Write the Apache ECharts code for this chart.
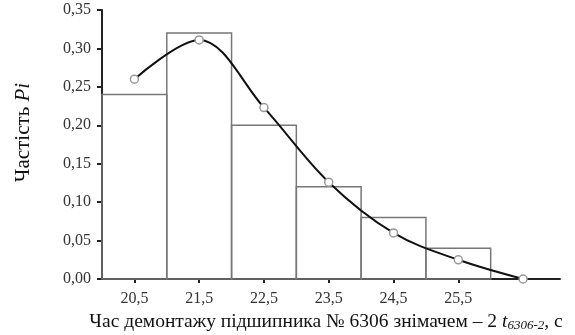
<!DOCTYPE html>
<html>
<head>
<meta charset="utf-8">
<script src="https://cdn.jsdelivr.net/npm/echarts@6/dist/echarts.min.js"></script>
<style>html,body{margin:0;padding:0;background:#fff;}#c{width:575px;height:335px;}</style>
</head>
<body>
<div id="c"></div>
<script>
// Histogram intervals (left edge, right edge) and frequencies
const binStarts = [20, 21, 22, 23, 24, 25];
const binEnds   = [21, 22, 23, 24, 25, 26];
const binFreq   = [0.24, 0.32, 0.20, 0.12, 0.08, 0.04];
// Theoretical curve points
const curveX = [20.5, 21.5, 22.5, 23.5, 24.5, 25.5, 26.5];
const curveY = [0.26, 0.311, 0.223, 0.126, 0.06, 0.025, 0.0];
// Tick labels
const xTicks = [20.5, 21.5, 22.5, 23.5, 24.5, 25.5];

const FONT = '"Liberation Serif", "Times New Roman", serif';
const chart = echarts.init(document.getElementById('c'), null, {renderer: 'canvas'});
const histData = binStarts.map((s, i) => [s, binEnds[i], binFreq[i]]);
const curveData = curveX.map((x, i) => [x, curveY[i]]);

chart.setOption({
  animation: false,
  backgroundColor: '#fff',
  grid: {left: 102, right: 15, top: 10, bottom: 56, containLabel: false, outerBoundsMode: 'none'},
  xAxis: {
    type: 'value', min: 20, max: 27.07,
    splitLine: {show: false},
    axisLine: {lineStyle: {color: '#222', width: 2}},
    axisTick: {show: true, customValues: xTicks, length: 4, lineStyle: {color: '#222', width: 2}},
    axisLabel: {customValues: xTicks, margin: 12, color: '#333', fontFamily: FONT, fontSize: 16,
      formatter: v => v.toFixed(1).replace('.', ',')},
    name: '{n|Час демонтажу підшипника № 6306 знімачем – 2 }{t|t}{s|6306-2}{n|, с}',
    nameLocation: 'middle', nameGap: 32,
    nameTextStyle: {
      padding: [0, 10, 0, 0],
      rich: {
        n: {fontFamily: FONT, fontSize: 19.5, color: '#111'},
        t: {fontFamily: FONT, fontSize: 19.5, fontStyle: 'italic', color: '#111'},
        s: {fontFamily: FONT, fontSize: 13, fontStyle: 'italic', color: '#111', padding: [7, 0, 0, 0]}
      }
    }
  },
  yAxis: {
    type: 'value', min: 0, max: 0.35, interval: 0.05,
    splitLine: {show: false},
    axisLine: {show: true, lineStyle: {color: '#222', width: 2}},
    axisTick: {show: true, length: 5, lineStyle: {color: '#222', width: 2}},
    axisLabel: {margin: 11, color: '#333', fontFamily: FONT, fontSize: 16,
      formatter: v => v.toFixed(2).replace('.', ',')},
    name: '{n|Частість }{p|Pi}',
    nameLocation: 'middle', nameGap: 68, nameRotate: 90,
    nameTextStyle: {
      padding: [0, 0, 0, 24],
      rich: {
        n: {fontFamily: FONT, fontSize: 21, color: '#111'},
        p: {fontFamily: FONT, fontSize: 21, fontStyle: 'italic', color: '#111'}
      }
    }
  },
  series: [
    {
      type: 'custom',
      data: histData,
      z: 1,
      renderItem: function (params, api) {
        const p0 = api.coord([api.value(0), api.value(2)]);
        const p1 = api.coord([api.value(1), 0]);
        return {
          type: 'rect',
          shape: {x: p0[0], y: p0[1], width: p1[0] - p0[0], height: p1[1] - p0[1]},
          style: {fill: 'rgba(255,255,255,0)', stroke: '#777', lineWidth: 1.5}
        };
      }
    },
    {
      type: 'line',
      data: curveData,
      smooth: 0.35,
      z: 3,
      symbol: 'circle', symbolSize: 8,
      lineStyle: {color: '#111', width: 2},
      itemStyle: {color: '#fff', borderColor: '#999', borderWidth: 1.5}
    }
  ]
});
</script>
</body>
</html>
